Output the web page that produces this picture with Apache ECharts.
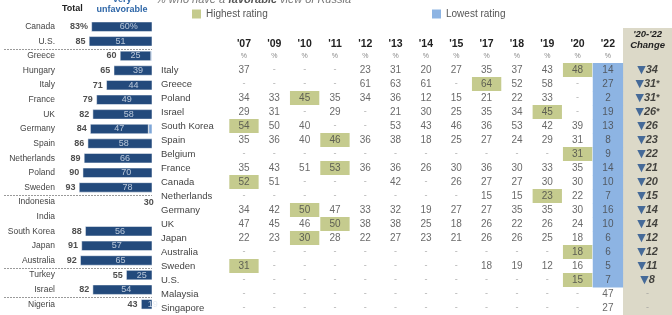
<!DOCTYPE html>
<html>
<head>
<meta charset="utf-8">
<script src="https://cdn.jsdelivr.net/npm/echarts@6/dist/echarts.min.js"></script>
<style>
html, body { margin: 0; padding: 0; background: #fff; }
#chart { width: 672px; height: 315px; }
</style>
</head>
<body>
<div id="chart"></div>
<script>
// left panel: unfavorable view (cropped)
const leftCountries = ['Canada', 'U.S.', 'Greece', 'Hungary', 'Italy', 'France', 'UK', 'Germany', 'Spain',
  'Netherlands', 'Poland', 'Sweden', 'Indonesia', 'India', 'South Korea', 'Japan', 'Australia', 'Turkey', 'Israel', 'Nigeria'];
const unfavTotal = [83, 85, 60, 65, 71, 79, 82, 84, 86, 89, 90, 93, 30, null, 88, 91, 92, 55, 82, 43];
const veryUnfav = [60, 51, 25, 39, 44, 49, 58, 47, 58, 66, 70, 78, null, null, 56, 57, 65, 25, 54, 19];
const groupEnds = ['U.S.', 'Sweden', 'Australia', 'Israel']; // dashed line below these

// right table: favorable view of Russia
const years = ["'07", "'09", "'10", "'11", "'12", "'13", "'14", "'15", "'17", "'18", "'19", "'20", "'22"];
const tableCountries = ['Italy', 'Greece', 'Poland', 'Israel', 'South Korea', 'Spain', 'Belgium', 'France', 'Canada',
  'Netherlands', 'Germany', 'UK', 'Japan', 'Australia', 'Sweden', 'U.S.', 'Malaysia', 'Singapore'];
const _ = null;
const favorable = [
  [37, _, _, _, 23, 31, 20, 27, 35, 37, 43, 48, 14],
  [_, _, _, _, 61, 63, 61, _, 64, 52, 58, _, 27],
  [34, 33, 45, 35, 34, 36, 12, 15, 21, 22, 33, _, 2],
  [29, 31, _, 29, _, 21, 30, 25, 35, 34, 45, _, 19],
  [54, 50, 40, _, _, 53, 43, 46, 36, 53, 42, 39, 13],
  [35, 36, 40, 46, 36, 38, 18, 25, 27, 24, 29, 31, 8],
  [_, _, _, _, _, _, _, _, _, _, _, 31, 9],
  [35, 43, 51, 53, 36, 36, 26, 30, 36, 30, 33, 35, 14],
  [52, 51, _, _, _, 42, _, 26, 27, 27, 30, 30, 10],
  [_, _, _, _, _, _, _, _, 15, 15, 23, 22, 7],
  [34, 42, 50, 47, 33, 32, 19, 27, 27, 35, 35, 30, 16],
  [47, 45, 46, 50, 38, 38, 25, 18, 26, 22, 26, 24, 10],
  [22, 23, 30, 28, 22, 27, 23, 21, 26, 26, 25, 18, 6],
  [_, _, _, _, _, _, _, _, _, _, _, 18, 6],
  [31, _, _, _, _, _, _, _, 18, 19, 12, 16, 5],
  [_, _, _, _, _, _, _, _, _, _, _, 15, 7],
  [_, _, _, _, _, _, _, _, _, _, _, _, 47],
  [_, _, _, _, _, _, _, _, _, _, _, _, 27]
];
const changeHeader = "'20-'22\nChange";
const change = [34, 31, 31, 26, 26, 23, 22, 21, 20, 15, 14, 14, 12, 12, 11, 8, null, null];
const changeNote = ['', '*', '*', '*', '', '', '', '', '', '', '', '', '', '', '', '', '', ''];

const FONT = 'Liberation Sans';
const chart = echarts.init(document.getElementById('chart'));

// highest / lowest cells, and cell texts
const highCells = [], lowCells = [], cellTexts = [];
favorable.forEach((row, r) => {
  const vals = row.filter(v => v != null);
  row.forEach((v, c) => cellTexts.push([c, r, v == null ? '-' : String(v)]));
  if (vals.length < 2) return;
  const max = Math.max(...vals), min = Math.min(...vals);
  highCells.push([row.indexOf(max), r]);
  lowCells.push([row.lastIndexOf(min), r]);
});

function cellRect(params, api) {
  const p = api.coord([api.value(0), api.value(1)]);
  const s = api.size([1, 1]);
  return {
    type: 'rect',
    shape: { x: p[0] - s[0] / 2 + 0.5, y: p[1] - s[1] / 2, width: s[0] - 1, height: s[1] },
    style: { fill: api.visual('color') }
  };
}

const hidden = { show: false };
const clear = { color: 'rgba(0,0,0,0)' };
const option = {
  animation: false,
  textStyle: { fontFamily: FONT },
  legend: [
    { data: ['Highest rating'], left: 187, top: 4, icon: 'rect', itemWidth: 9, itemHeight: 9,
      textStyle: { fontSize: 10, color: '#555', fontFamily: FONT } },
    { data: ['Lowest rating'], left: 427, top: 4, icon: 'rect', itemWidth: 9, itemHeight: 9,
      textStyle: { fontSize: 10, color: '#555', fontFamily: FONT } }
  ],
  grid: [
    { left: 0, width: 152, top: 19.4, height: 292.2 },
    { left: 228.8, width: 394.3, top: 63, height: 254.2 },
    { left: 623.1, width: 48.9, top: 63, height: 254.2 }
  ],
  xAxis: [
    { gridIndex: 0, type: 'value', inverse: true, min: 34.2, max: 156.6,
      axisLine: hidden, axisTick: hidden, axisLabel: hidden, splitLine: hidden },
    { gridIndex: 1, type: 'category', data: years, position: 'top',
      axisLine: hidden, axisTick: hidden, splitLine: hidden,
      axisLabel: { interval: 0, margin: 1, formatter: v => '{y|' + v + '}\n{p|%}',
        rich: { y: { fontWeight: 'bold', fontSize: 10.5, color: '#222', lineHeight: 12, fontFamily: FONT },
                p: { fontSize: 7, color: '#888', lineHeight: 12, fontFamily: FONT } } } },
    { gridIndex: 2, type: 'category', data: [changeHeader], position: 'top',
      axisLine: hidden, axisTick: hidden, splitLine: hidden,
      axisLabel: { margin: 12, fontWeight: 'bold', fontStyle: 'italic', fontSize: 9.5, lineHeight: 11,
        color: '#222', fontFamily: FONT } }
  ],
  yAxis: [
    { gridIndex: 0, type: 'category', data: leftCountries, inverse: true,
      axisLine: hidden, axisTick: hidden, splitLine: hidden,
      axisLabel: { interval: 0, margin: -55, align: 'right', fontSize: 8.5, color: '#444', fontFamily: FONT } },
    { gridIndex: 1, type: 'category', data: tableCountries, inverse: true,
      axisLine: hidden, axisTick: hidden, splitLine: hidden,
      axisLabel: { interval: 0, margin: 67.8, align: 'left', fontSize: 9.5, color: '#444', fontFamily: FONT } },
    { gridIndex: 2, type: 'category', data: tableCountries, inverse: true,
      axisLine: hidden, axisTick: hidden, axisLabel: hidden, splitLine: hidden }
  ],
  series: [
    { name: 'Somewhat unfavorable', type: 'bar', xAxisIndex: 0, yAxisIndex: 0, stack: 'u', barWidth: 10,
      data: unfavTotal.map((t, i) => t == null || veryUnfav[i] == null ? null : t - veryUnfav[i]),
      itemStyle: { color: '#7fa7d8', borderColor: '#fff', borderWidth: 0.5 } },
    { name: 'Very unfavorable', type: 'bar', xAxisIndex: 0, yAxisIndex: 0, stack: 'u', barWidth: 10,
      data: veryUnfav, itemStyle: { color: '#234a7c', borderColor: '#fff', borderWidth: 0.5 } },
    { type: 'scatter', xAxisIndex: 0, yAxisIndex: 0, symbolSize: 1, itemStyle: clear, clip: false, z: 5,
      data: leftCountries.map((c, i) => veryUnfav[i] == null ? null : [unfavTotal[i] - veryUnfav[i] / 2, c, veryUnfav[i] + (i === 0 ? '%' : '')]),
      label: { show: true, position: 'inside', formatter: p => p.data[2], fontSize: 9, color: '#dfe6f0', fontFamily: FONT } },
    { type: 'scatter', xAxisIndex: 0, yAxisIndex: 0, symbolSize: 1, itemStyle: clear, clip: false, z: 5,
      data: leftCountries.map((c, i) => unfavTotal[i] == null ? null : [unfavTotal[i], c, unfavTotal[i] + (i === 0 ? '%' : '')]),
      label: { show: true, position: 'left', distance: 3, formatter: p => p.data[2], fontSize: 9,
        fontWeight: 'bold', color: '#222', fontFamily: FONT } },
    { name: 'Highest rating', type: 'custom', xAxisIndex: 1, yAxisIndex: 1, renderItem: cellRect,
      itemStyle: { color: '#c5cb8e' }, data: highCells, z: 1 },
    { name: 'Lowest rating', type: 'custom', xAxisIndex: 1, yAxisIndex: 1,
      renderItem: (params, api) => {
        const p = api.coord([api.value(0), api.value(1)]);
        const s = api.size([1, 1]);
        return { type: 'rect', shape: { x: p[0] - s[0] / 2, y: p[1] - s[1] / 2, width: s[0], height: s[1] + 0.5 },
          style: { fill: api.visual('color') } };
      },
      itemStyle: { color: '#8db4e3' }, data: lowCells, z: 1 },
    { type: 'scatter', xAxisIndex: 1, yAxisIndex: 1, symbolSize: 1, itemStyle: clear, z: 5,
      data: cellTexts,
      label: { show: true, position: 'inside', fontSize: 10, fontFamily: FONT,
        formatter: p => p.data[2] === '-' ? '{d|-}' : p.data[2], color: '#444',
        rich: { d: { color: '#999', fontSize: 9, fontFamily: FONT } } } },
    { type: 'scatter', xAxisIndex: 2, yAxisIndex: 2, symbolSize: 1, itemStyle: clear, z: 5,
      data: tableCountries.map((c, i) => [0, c, change[i], changeNote[i]]),
      label: { show: true, position: 'inside', fontFamily: FONT,
        formatter: p => p.data[2] == null ? '{d|-}' : '{t|▼}{v|' + p.data[2] + '}' + (p.data[3] ? '{s|' + p.data[3] + '}' : ''),
        rich: {
          t: { color: '#1f4e8c', fontSize: 11, fontFamily: 'DejaVu Sans' },
          v: { color: '#1a1a1a', fontSize: 11, fontWeight: 'bold', fontStyle: 'italic', fontFamily: FONT },
          s: { color: '#1a1a1a', fontSize: 9, fontWeight: 'bold', fontFamily: FONT },
          d: { color: '#999', fontSize: 9, fontFamily: FONT }
        } } }
  ]
};
chart.setOption(option);

const graphics = [
  { type: 'rect', z: -10, shape: { x: 623, y: 28, width: 49, height: 287 }, style: { fill: '#dcd9c8' } },
  { type: 'text', left: 62, top: 4, style: { text: 'Total', font: 'bold 9px "Liberation Sans"', fill: '#222' } },
  { type: 'text', x: 122, y: 0, style: { text: 'Very', align: 'center', verticalAlign: 'middle',
      font: 'bold 9px "Liberation Sans"', fill: '#2f67a8' } },
  { type: 'text', x: 122, y: 10, style: { text: 'unfavorable', align: 'center', verticalAlign: 'middle',
      font: 'bold 9px "Liberation Sans"', fill: '#2f67a8' } },
  { type: 'text', x: 156, y: 0, style: {
      text: '{a|% who have a }{b|favorable}{a| view of Russia}', verticalAlign: 'middle',
      rich: { a: { fontSize: 11, fontStyle: 'italic', fill: '#777', fontFamily: FONT },
              b: { fontSize: 11, fontStyle: 'italic', fontWeight: 'bold', fill: '#555', fontFamily: FONT } } } }
];
groupEnds.forEach(name => {
  const i = leftCountries.indexOf(name);
  const y0 = chart.convertToPixel({ yAxisIndex: 0 }, leftCountries[i]);
  const y1 = chart.convertToPixel({ yAxisIndex: 0 }, leftCountries[i + 1]);
  const y = Math.round((y0 + y1) / 2) + 0.5;
  graphics.push({ type: 'line', shape: { x1: 4, y1: y, x2: 152, y2: y },
    style: { stroke: '#9a9a9a', lineWidth: 1, lineDash: [2, 1] } });
});
chart.setOption({ graphic: graphics });
</script>
</body>
</html>
